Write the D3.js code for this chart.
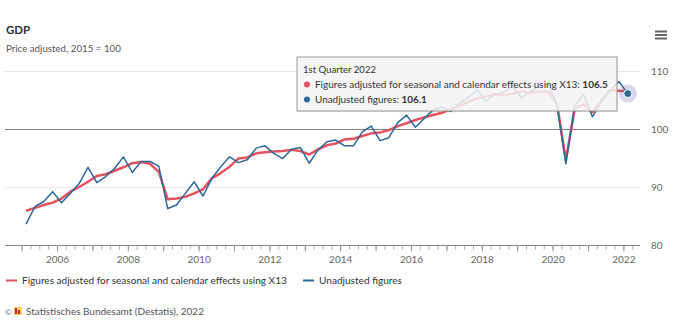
<!DOCTYPE html>
<html>
<head>
<meta charset="utf-8">
<script src="https://cdn.jsdelivr.net/npm/d3@7/dist/d3.min.js"></script>
<style>
body { margin: 0; background: #fff; }
svg text { font-family: Lato, "Noto Sans", sans-serif; }
</style>
</head>
<body>
<script>
// GDP, price adjusted, 2015 = 100, quarterly from 2005 Q1
var startYear = 2005;

var adjusted = [
    85.9, 86.4, 86.9, 87.3,
    88.0, 89.2, 90.0, 90.9,
    91.9, 92.2, 92.8, 93.4,
    94.1, 94.3, 94.0, 92.6,
    87.9, 88.0, 88.3, 88.9,
    89.6, 91.5, 92.4, 93.5,
    94.9, 95.1, 95.8, 96.0,
    96.1, 96.2, 96.4, 96.2,
    95.6, 96.5, 97.2, 97.5,
    98.2, 98.3, 98.8, 99.25,
    99.4, 99.8, 100.5, 101.0,
    101.55, 102.0, 102.4, 102.8,
    103.4, 104.0, 104.7, 105.3,
    105.6, 106.0, 105.8, 106.1,
    106.5, 106.2, 106.5, 106.4,
    104.4, 94.6, 103.5, 104.3,
    102.9, 104.9, 106.7, 106.6,
    106.5
];

var unadjusted = [
    83.6, 86.6, 87.5, 89.2,
    87.3, 88.9, 90.6, 93.4,
    90.75, 91.8, 93.2, 95.2,
    92.5, 94.4, 94.4, 93.6,
    86.3, 86.9, 88.9, 90.9,
    88.45, 91.5, 93.5, 95.2,
    94.2, 94.7, 96.7, 97.1,
    95.8, 94.9, 96.5, 96.8,
    94.1, 96.4, 97.8, 98.1,
    97.1, 97.1, 99.5, 100.5,
    98.0, 98.5, 101.1, 102.4,
    100.3, 101.8, 103.3, 103.8,
    103.0, 104.5, 105.5, 106.7,
    104.8, 106.0, 106.3, 107.4,
    105.4, 106.5, 107.4, 107.8,
    104.1, 94.0, 104.0, 106.0,
    102.1, 104.6, 106.6, 108.2,
    106.1
];

var yearLabels = [2006, 2008, 2010, 2012, 2014, 2016, 2018, 2020, 2022];
var yTicks = [80, 90, 100, 110];
var seriesNames = ["Figures adjusted for seasonal and calendar effects using X13", "Unadjusted figures"];
var colors = ["#e3525f", "#2f6897"];
var tipTitle = "1st Quarter 2022";

var width = 673, height = 329;

var svg = d3.select("body")
            .append("svg")
            .attr("width", width)
            .attr("height", height);

// quarter index -> decimal year at the middle of the quarter
function qTime(i) {
    return startYear + i / 4 + 0.125;
}

// scale a text's font size so it runs the given width
function fitText(sel, w) {
    var cur = sel.node().getComputedTextLength();
    var fs = +sel.attr("font-size");
    sel.attr("font-size", (fs * w / cur).toFixed(2));
    return sel;
}

var x = d3.scaleLinear().domain([2004.53, 2022.47]).range([5, 640]);
var y = d3.scaleLinear().domain([80, 110]).range([245, 71]);

// title
svg.append("text")
    .attr("x", 6).attr("y", 34)
    .attr("font-size", 11.5).attr("font-weight", "bold").attr("fill", "#333")
    .text("GDP");
fitText(svg.append("text")
    .attr("x", 6).attr("y", 52)
    .attr("font-size", 9.5).attr("fill", "#555")
    .text("Price adjusted, 2015 = 100"), 115);

// menu icon
[31.5, 35, 38.5].forEach(function(yy) {
    svg.append("line")
        .attr("x1", 655).attr("x2", 667)
        .attr("y1", yy).attr("y2", yy)
        .attr("stroke", "#666").attr("stroke-width", 2);
});

// grid
svg.append("g").selectAll("line")
    .data(yTicks.filter(function(d) { return d != 80 && d != 100; }))
    .enter()
    .append("line")
    .attr("x1", 5).attr("x2", 640)
    .attr("y1", function(d) { return y(d) + 0.5; })
    .attr("y2", function(d) { return y(d) + 0.5; })
    .attr("stroke", "#e6e6e6");

// 100 reference line
svg.append("line")
    .attr("x1", 5).attr("x2", 640)
    .attr("y1", y(100) + 0.5).attr("y2", y(100) + 0.5)
    .attr("stroke", "#808080").attr("stroke-width", 1);

// y axis labels on the right
var yAxis = svg.append("g")
    .attr("transform", "translate(646,0)")
    .call(d3.axisRight(y).tickValues(yTicks).tickSize(0).tickPadding(5));
yAxis.select(".domain").remove();
yAxis.selectAll("text").attr("font-size", 10).attr("fill", "#666").attr("font-family", null);

// x axis: quarter ticks, then year labels
var quarterTicks = d3.range(0, 70).map(function(i) { return startYear + i / 4; });
var xMinor = svg.append("g")
    .attr("transform", "translate(0," + (y(80) + 0.5) + ")")
    .call(d3.axisBottom(x).tickValues(quarterTicks).tickSize(4).tickFormat(""));
xMinor.select(".domain").attr("d", "M5,0H640").attr("stroke", "#888");
xMinor.selectAll(".tick line").attr("stroke", "#aaa");

var xMajor = svg.append("g")
    .attr("transform", "translate(0," + (y(80) + 0.5) + ")")
    .call(d3.axisBottom(x).tickValues(d3.range(2005, 2023)).tickSize(6).tickFormat(function(d) {
        return yearLabels.indexOf(d) >= 0 ? d : "";
    }).tickPadding(4));
xMajor.select(".domain").remove();
xMajor.selectAll(".tick line").attr("stroke", "#999");
xMajor.selectAll("text").attr("font-size", 10).attr("fill", "#666").attr("font-family", null);

// series lines
var line = d3.line()
    .x(function(d, i) { return x(qTime(i)); })
    .y(function(d) { return y(d); });

svg.append("path")
    .datum(adjusted)
    .attr("d", line)
    .attr("fill", "none")
    .attr("stroke", colors[0])
    .attr("stroke-width", 2.5)
    .attr("stroke-linejoin", "round");

svg.append("path")
    .datum(unadjusted)
    .attr("d", line)
    .attr("fill", "none")
    .attr("stroke", colors[1])
    .attr("stroke-width", 1.5)
    .attr("stroke-linejoin", "round");

// hovered point (last quarter)
var last = unadjusted.length - 1;
svg.append("circle")
    .attr("cx", x(qTime(last))).attr("cy", y(unadjusted[last]))
    .attr("r", 9).attr("fill", "#6a5fb0").attr("opacity", 0.25);
svg.append("circle")
    .attr("cx", x(qTime(last))).attr("cy", y(unadjusted[last]))
    .attr("r", 4).attr("fill", colors[1]).attr("stroke", "#fff").attr("stroke-width", 1);

// tooltip
var tip = svg.append("g").attr("transform", "translate(297,57)");
tip.append("rect")
    .attr("x", 1).attr("y", 1).attr("width", 320).attr("height", 54)
    .attr("fill", "#000").attr("opacity", 0.08);
tip.append("rect")
    .attr("x", 0).attr("y", 0).attr("width", 320).attr("height", 54)
    .attr("fill", "#f7f7f7").attr("fill-opacity", 0.85)
    .attr("stroke", "#999").attr("stroke-width", 1);
fitText(tip.append("text")
    .attr("x", 6).attr("y", 16)
    .attr("font-size", 10).attr("fill", "#333")
    .text(tipTitle), 73);

var tipRows = [
    { name: seriesNames[0], value: adjusted[last], color: colors[0], w: 293 },
    { name: seriesNames[1], value: unadjusted[last], color: colors[1], w: 112 }
];
tipRows.forEach(function(r, k) {
    var yy = 31 + k * 15;
    tip.append("circle")
        .attr("cx", 10).attr("cy", yy - 3.5).attr("r", 3)
        .attr("fill", r.color);
    var t = tip.append("text")
        .attr("x", 18).attr("y", yy)
        .attr("font-size", 10).attr("fill", "#333");
    t.append("tspan").text(r.name + ": ");
    t.append("tspan").attr("font-weight", "bold").text(d3.format(".1f")(r.value));
    fitText(t, r.w);
});

// legend
var legend = svg.append("g").attr("transform", "translate(0,284)");
var legX = [6, 303];
var legW = [265, 83];
seriesNames.forEach(function(name, k) {
    legend.append("line")
        .attr("x1", legX[k]).attr("x2", legX[k] + 11)
        .attr("y1", -3.5).attr("y2", -3.5)
        .attr("stroke", colors[k]).attr("stroke-width", 2);
    fitText(legend.append("text")
        .attr("x", legX[k] + 16).attr("y", 0)
        .attr("font-size", 10).attr("fill", "#333")
        .text(name), legW[k]);
});

// credits
var credits = svg.append("g").attr("transform", "translate(0,315)");
credits.append("text")
    .attr("x", 5).attr("y", 0)
    .attr("font-size", 8).attr("fill", "#666")
    .text("\u00a9");
credits.append("rect").attr("x", 14).attr("y", -8).attr("width", 8).attr("height", 8).attr("fill", "#f4d35e");
credits.append("rect").attr("x", 15).attr("y", -7).attr("width", 2).attr("height", 6).attr("fill", "#c8232c");
credits.append("rect").attr("x", 18).attr("y", -5).attr("width", 2).attr("height", 4).attr("fill", "#c8232c");
fitText(credits.append("text")
    .attr("x", 26).attr("y", 0)
    .attr("font-size", 9.5).attr("fill", "#555")
    .text("Statistisches Bundesamt (Destatis), 2022"), 178);
</script>
</body>
</html>
